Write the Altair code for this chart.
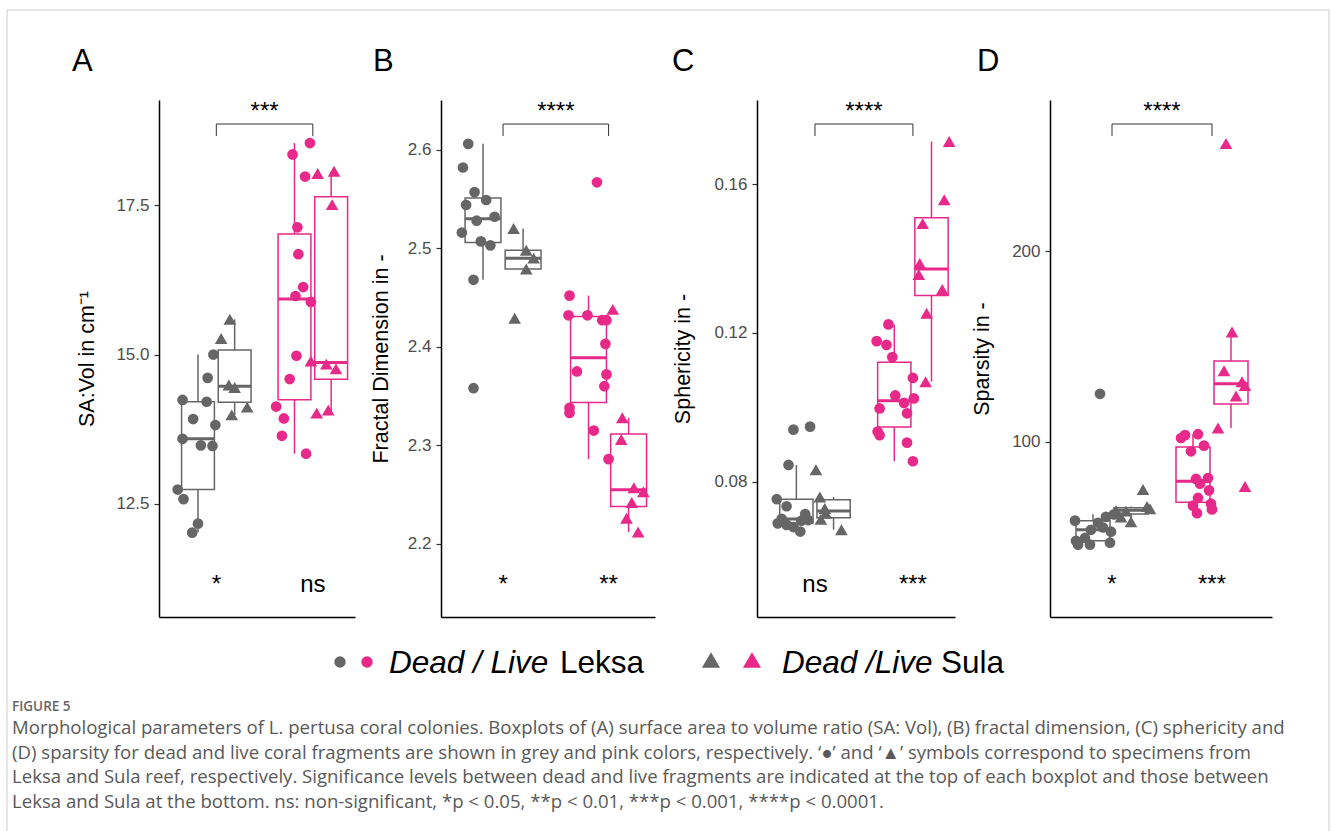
import altair as alt
import numpy as np
import pandas as pd

# ---------------- values ----------------
# Panel A : SA:Vol in cm^-1
A_dead_leksa = [14.24, 14.21, 14.61, 15.00, 13.92, 13.82, 13.59, 13.48, 13.47, 12.74, 12.58, 12.17, 12.02]
A_dead_sula = [15.59, 15.27, 14.49, 14.45, 13.99, 14.12]
A_live_leksa = [18.54, 18.35, 17.98, 17.13, 16.68, 16.13, 15.98, 15.88, 14.98, 14.59, 14.13, 13.93, 13.64, 13.34]
A_live_sula = [18.03, 18.07, 17.51, 14.89, 14.84, 14.76, 14.02, 14.07]

# Panel B : fractal dimension
B_dead_leksa = [2.606, 2.582, 2.557, 2.544, 2.549, 2.528, 2.532, 2.516, 2.507, 2.503, 2.468, 2.358]
B_dead_sula = [2.520, 2.498, 2.490, 2.479, 2.429]
B_live_leksa = [2.452, 2.432, 2.432, 2.427, 2.427, 2.403, 2.375, 2.372, 2.360, 2.338, 2.333, 2.315, 2.286, 2.567]
B_live_sula = [2.438, 2.328, 2.306, 2.257, 2.253, 2.242, 2.226, 2.212]

# Panel C : sphericity
C_dead_leksa = [0.0940, 0.0948, 0.0845, 0.0753, 0.0734, 0.0713, 0.0688, 0.0684, 0.0678, 0.0666, 0.0697, 0.0695, 0.0700]
C_dead_sula = [0.0832, 0.0759, 0.0728, 0.0699, 0.0671, 0.0715]
C_live_leksa = [0.1223, 0.1178, 0.1168, 0.1135, 0.1079, 0.1032, 0.1024, 0.0997, 0.0984, 0.0925, 0.0905, 0.0855, 0.0935, 0.1012]
C_live_sula = [0.1715, 0.1558, 0.1494, 0.1387, 0.1357, 0.1317, 0.1253, 0.1069]

# Panel D : sparsity
D_dead_leksa = [125.2, 58.6, 53.8, 60.6, 52.8, 48.0, 46.0, 46.0, 47.0, 61.9, 49.5, 55.0, 57.5]
D_dead_sula = [75.0, 66.0, 64.8, 64.0, 63.6, 60.5, 58.0]
D_live_leksa = [104.0, 103.5, 102.0, 98.0, 95.0, 81.0, 80.5, 78.0, 74.5, 70.5, 67.5, 66.5, 64.5, 62.5]
D_live_sula = [256.7, 157.7, 137.3, 131.5, 129.5, 124.1, 107.2, 76.5]

# horizontal jitter of every point (in x units), as seen in the figure
A_jitter = [[-0.16, 0.09, 0.10, 0.16, -0.05, 0.18, -0.16, 0.03, 0.15, -0.21, -0.15, 0.00, -0.06],
            [-0.05, -0.14, -0.06, 0.00, -0.03, 0.13],
            [0.16, -0.02, 0.11, 0.03, 0.04, 0.09, 0.01, 0.17, 0.02, -0.05, -0.19, -0.11, -0.13, 0.12],
            [-0.14, 0.03, 0.01, -0.21, -0.05, 0.05, -0.15, -0.03]]
B_jitter = [[-0.14, -0.19, -0.08, -0.16, 0.03, -0.06, 0.11, -0.20, -0.02, 0.07, -0.09, -0.09],
            [-0.09, 0.03, 0.10, 0.03, -0.08],
            [-0.18, -0.19, -0.01, 0.13, 0.17, 0.16, -0.11, 0.17, 0.15, -0.18, -0.18, 0.05, 0.19, 0.08],
            [-0.15, -0.06, -0.07, 0.05, 0.14, 0.03, -0.02, 0.09]]
C_jitter = [[-0.03, 0.14, -0.08, -0.20, -0.10, 0.09, -0.19, -0.10, -0.03, 0.04, 0.12, 0.05, -0.15],
            [-0.18, -0.14, -0.09, -0.13, 0.08, -0.08],
            [-0.06, -0.18, -0.08, -0.02, 0.19, 0.01, 0.20, -0.15, 0.13, -0.15, 0.13, 0.19, -0.17, 0.10],
            [0.18, 0.13, -0.09, -0.12, -0.13, 0.11, -0.05, -0.06]]
D_jitter = [[0.07, -0.18, -0.02, 0.13, 0.18, -0.17, -0.03, -0.15, 0.17, 0.21, -0.08, 0.10, 0.05],
            [0.12, 0.16, 0.19, -0.15, -0.05, -0.10, 0.00],
            [0.05, -0.08, -0.12, 0.11, -0.02, 0.15, 0.03, 0.07, 0.16, 0.05, 0.18, 0.00, 0.19, 0.04],
            [-0.05, 0.01, -0.07, 0.11, 0.14, 0.05, -0.13, 0.14]]

panel_letters = ["A", "B", "C", "D"]
y_titles = ["SA:Vol in cm\u207b\u00b9", "Fractal Dimension in -", "Sphericity in -", "Sparsity in -"]
A_ticks = [12.5, 15.0, 17.5]
B_ticks = [2.2, 2.3, 2.4, 2.5, 2.6]
C_ticks = [0.08, 0.12, 0.16]
D_ticks = [100, 200]
tick_formats = [".1f", ".1f", ".2f", "d"]

# significance: dead vs live (top), Leksa vs Sula within dead / live (bottom)
sig_top = ["***", "****", "****", "****"]
sig_bottom_dead = ["*", "*", "ns", "*"]
sig_bottom_live = ["ns", "**", "***", "***"]
# annotation heights in data units: [bracket, bracket tips, top label, bottom labels]
A_annot = [18.859, 18.658, 18.943, 11.025]
B_annot = [2.6261, 2.6140, 2.6312, 2.1512]
C_annot = [0.17619, 0.17296, 0.17753, 0.05034]
D_annot = [266.9, 260.6, 269.5, 21.1]

legend_labels = [("Dead / Live", "Leksa"), ("Dead /Live", "Sula")]
caption_head = "FIGURE 5"
caption_lines = [
    "Morphological parameters of L. pertusa coral colonies. Boxplots of (A) surface area to volume ratio (SA: Vol), (B) fractal dimension, (C) sphericity and",
    "(D) sparsity for dead and live coral fragments are shown in grey and pink colors, respectively. \u2018\u25cf\u2019 and \u2018\u25b2\u2019 symbols correspond to specimens from",
    "Leksa and Sula reef, respectively. Significance levels between dead and live fragments are indicated at the top of each boxplot and those between",
    "Leksa and Sula at the bottom. ns: non-significant, *p < 0.05, **p < 0.01, ***p < 0.001, ****p < 0.0001.",
]

# ---------------- layout / style ----------------
W, H = 1331, 831
PLOT_TOP, PLOT_BOTTOM = 100, 617
GREY, PINK = "#666666", "#E7298A"
DODGE, HALF_BOX = 0.19, 0.17
FONT = "Liberation Sans"

panel_layout = [
    dict(xrange=[159, 355], xdom=[0.406, 2.437], ydom=[10.607, 19.261], tpad=31),
    dict(xrange=[441, 655], xdom=[0.412, 2.44], ydom=[2.1258, 2.6505], tpad=19),
    dict(xrange=[757, 955], xdom=[0.408, 2.43], ydom=[0.04362, 0.18264], tpad=33),
    dict(xrange=[1050, 1272], xdom=[0.38, 2.60], ydom=[8.0, 279.5], tpad=27),
]
letter_x = [72, 373, 672, 977]

panel_values = [
    [A_dead_leksa, A_dead_sula, A_live_leksa, A_live_sula],
    [B_dead_leksa, B_dead_sula, B_live_leksa, B_live_sula],
    [C_dead_leksa, C_dead_sula, C_live_leksa, C_live_sula],
    [D_dead_leksa, D_dead_sula, D_live_leksa, D_live_sula],
]
panel_jitter = [A_jitter, B_jitter, C_jitter, D_jitter]
panel_ticks = [A_ticks, B_ticks, C_ticks, D_ticks]
panel_annot = [A_annot, B_annot, C_annot, D_annot]

GROUPS = [("dead", "Leksa"), ("dead", "Sula"), ("live", "Leksa"), ("live", "Sula")]
BASE = {"dead": 1.0, "live": 2.0}
SHIFT = {"Leksa": -DODGE, "Sula": DODGE}

color_scale = alt.Scale(domain=["dead", "live"], range=[GREY, PINK])


def box_stats(vals):
    v = np.asarray(vals, dtype=float)
    q1, med, q3 = np.percentile(v, [25, 50, 75])
    iqr = q3 - q1
    lo = v[v >= q1 - 1.5 * iqr].min()
    hi = v[v <= q3 + 1.5 * iqr].max()
    return q1, med, q3, lo, hi


def build_panel(i):
    lay = panel_layout[i]
    pts, boxes, whisk = [], [], []
    for (state, site), vals, jit in zip(GROUPS, panel_values[i], panel_jitter[i]):
        xc = BASE[state] + SHIFT[site]
        for v, j in zip(vals, jit):
            pts.append(dict(x=xc + j, v=v, state=state, site=site))
        q1, med, q3, lo, hi = box_stats(vals)
        boxes.append(dict(xl=xc - HALF_BOX, xr=xc + HALF_BOX, q1=q1, med=med, q3=q3, state=state))
        whisk.append(dict(x=xc, y=lo, y2=q1, state=state))
        whisk.append(dict(x=xc, y=q3, y2=hi, state=state))
    pts = pd.DataFrame(pts)
    boxes = pd.DataFrame(boxes)
    whisk = pd.DataFrame(whisk)

    b_y, b_tip, top_y, bot_y = panel_annot[i]
    bracket = pd.DataFrame([
        dict(x=1.0, x2=2.0, y=b_y, y2=b_y),
        dict(x=1.0, x2=1.0, y=b_tip, y2=b_y),
        dict(x=2.0, x2=2.0, y=b_tip, y2=b_y),
    ])
    labels = pd.DataFrame([
        dict(x=1.5, y=top_y, t=sig_top[i]),
        dict(x=1.0, y=bot_y, t=sig_bottom_dead[i]),
        dict(x=2.0, y=bot_y, t=sig_bottom_live[i]),
    ])

    xs = alt.Scale(domain=lay["xdom"], range=lay["xrange"], nice=False, zero=False)
    ys = alt.Scale(domain=lay["ydom"], range=[PLOT_BOTTOM, PLOT_TOP], nice=False, zero=False)
    xaxis = alt.Axis(orient="bottom", offset=-(H - PLOT_BOTTOM), labels=False, ticks=False,
                     grid=False, domain=True, domainColor="black", domainWidth=1.5, title="")
    yaxis = alt.Axis(orient="left", offset=-lay["xrange"][0], values=panel_ticks[i],
                     format=tick_formats[i], grid=False, domain=True, domainColor="black",
                     domainWidth=1.5, tickSize=5, tickColor="#333333", tickWidth=1.2,
                     labelPadding=5, labelFont=FONT, labelFontSize=17, labelColor="#4D4D4D",
                     title=y_titles[i], titleFont=FONT, titleFontSize=21.5,
                     titleFontWeight="normal", titleColor="black", titlePadding=lay["tpad"],
                     minExtent=30, maxExtent=30)

    def X(f):
        return alt.X(f, type="quantitative", scale=xs, axis=xaxis)

    def Y(f):
        return alt.Y(f, type="quantitative", scale=ys, axis=yaxis)

    col = alt.Color("state:N", scale=color_scale, legend=None)

    whisk_l = alt.Chart(whisk).mark_rule(strokeWidth=1.5).encode(
        x=X("x"), y=Y("y"), y2="y2", color=col)
    box_l = alt.Chart(boxes).mark_rect(filled=False, strokeWidth=1.5).encode(
        x=X("xl"), x2="xr", y=Y("q1"), y2="q3", color=col)
    med_l = alt.Chart(boxes).mark_rule(strokeWidth=3).encode(
        x=X("xl"), x2="xr", y=Y("med"), color=col)
    circ_l = alt.Chart(pts[pts.site == "Leksa"]).mark_point(
        filled=True, shape="circle", size=115, opacity=1).encode(x=X("x"), y=Y("v"), color=col)
    tri_l = alt.Chart(pts[pts.site == "Sula"]).mark_point(
        filled=True, shape="triangle-up", size=160, opacity=1).encode(x=X("x"), y=Y("v"), color=col)
    br_l = alt.Chart(bracket).mark_rule(strokeWidth=1, color="#333333").encode(
        x=X("x"), x2="x2", y=Y("y"), y2="y2")
    txt_l = alt.Chart(labels).mark_text(font=FONT, fontSize=24, baseline="alphabetic",
                                        align="center", color="black").encode(
        x=X("x"), y=Y("y"), text="t:N")
    return alt.layer(whisk_l, box_l, med_l, circ_l, tri_l, br_l, txt_l)


one = pd.DataFrame({"k": [0]})


def label(text, x, y, size, color="black", font=FONT, style="normal", weight="normal", align="left"):
    return alt.Chart(pd.DataFrame({"t": [text]})).mark_text(
        font=font, fontSize=size, fontStyle=style, fontWeight=weight, align=align,
        baseline="alphabetic", color=color).encode(
        x=alt.value(x), y=alt.value(y), text="t:N")


def symbol(shape, color, x, y, size):
    return alt.Chart(one).mark_point(filled=True, shape=shape, size=size, opacity=1, color=color).encode(
        x=alt.value(x), y=alt.value(y))


layers = [build_panel(i) for i in range(4)]

# frame around the figure
layers.append(alt.Chart(one).mark_rect(filled=False, stroke="#CCCCCC", strokeWidth=1).encode(
    x=alt.value(7), x2=alt.value(1329), y=alt.value(10), y2=alt.value(H + 5)))

# panel letters
for lt, lx in zip(panel_letters, letter_x):
    layers.append(label(lt, lx, 71, 31))

# legend
layers += [symbol("circle", GREY, 340, 662, 130), symbol("circle", PINK, 367, 662, 130),
           symbol("triangle-up", GREY, 711, 660, 330), symbol("triangle-up", PINK, 752, 660, 330)]
layers += [label(legend_labels[0][0], 389, 673, 31.5, style="italic"),
           label(legend_labels[0][1], 560, 673, 31.5),
           label(legend_labels[1][0], 782, 673, 31.5, style="italic"),
           label(legend_labels[1][1], 941, 673, 31.5)]

# caption
layers.append(label(caption_head, 12, 711, 13.5, color="#666666", font="Open Sans", weight=600))
for k, line in enumerate(caption_lines):
    layers.append(label(line, 12, 734 + k * 24.5, 18.6, color="#595959", font="Open Sans"))

chart = alt.layer(*layers).resolve_scale(x="independent", y="independent").properties(
    width=W, height=H, padding=0, autosize=alt.AutoSizeParams(type="none"),
    background="white",
).configure_view(stroke="transparent")

chart.save("out.html", embed_options={"renderer": "svg", "actions": False})
